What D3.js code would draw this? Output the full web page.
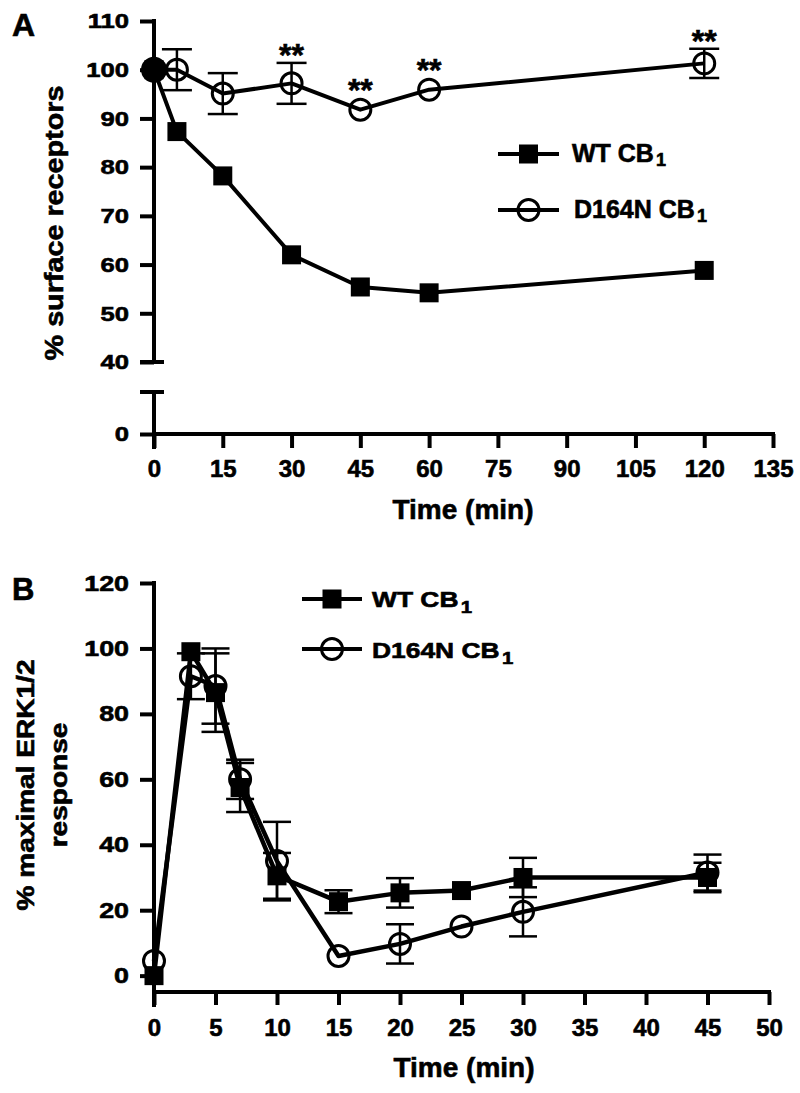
<!DOCTYPE html>
<html>
<head>
<meta charset="utf-8">
<script src="https://cdn.jsdelivr.net/npm/d3@7"></script>
<style>
  html, body { margin: 0; padding: 0; background: #fff; }
  svg { display: block; }
  text { font-family: "Liberation Sans", Arial, Helvetica, sans-serif; font-weight: bold; fill: #000; stroke: #000; stroke-width: 0.6px; }
</style>
</head>
<body>
<svg id="chart" width="800" height="1093"></svg>
<script>
// ---------- DATA ----------
// Panel A: % surface receptors vs time
const timeA    = [0, 5, 15, 30, 45, 60, 120];
const wtA      = [100, 87.3, 78.2, 62.0, 55.4, 54.2, 58.8];
const wtAErr   = [0, 0, 0, 0, 0, 0, 0];
const mutA     = [100, 100, 95.1, 97.2, 91.8, 95.9, 101.3];
const mutAErr  = [0, 4.2, 4.2, 4.2, 0, 0, 3.0];
const sigTimesA = [30, 45, 60, 120];
const xTicksA  = [0, 15, 30, 45, 60, 75, 90, 105, 120, 135];
const yTicksA  = [40, 50, 60, 70, 80, 90, 100, 110];

// Panel B: % maximal ERK1/2 response vs time
const timeB    = [0, 3, 5, 7, 10, 15, 20, 25, 30, 45];
const wtB      = [0, 99, 86.5, 57.5, 30.5, 22.6, 25.3, 26, 30, 30];
const wtBErr   = [0, 0, 12, 7.5, 7, 3.5, 4.5, 0, 6, 4.5];
const mutB     = [4.5, 91.5, 88.5, 60, 35, 6, 9.7, 15, 19.5, 31.5];
const mutBErr  = [0, 7, 11.5, 6, 12, 0, 6, 0, 7.5, 5.5];
const xTicksB  = [0, 5, 10, 15, 20, 25, 30, 35, 40, 45, 50];
const yTicksB  = [0, 20, 40, 60, 80, 100, 120];

const seriesNames = ["WT CB", "D164N CB"];

// ---------- HELPERS ----------
const svg = d3.select("#chart");
const FONT = '"Liberation Sans", Arial, Helvetica, sans-serif';

function label(g, x, y, str, size, opts = {}) {
  const sx = opts.sx || 1, rot = opts.rot || 0;
  return g.append("text")
    .attr("transform", `translate(${x},${y}) rotate(${rot}) scale(${sx},1)`)
    .attr("text-anchor", opts.anchor || "start")
    .style("font-size", size + "px")
    .text(str);
}
function line(g, x1, y1, x2, y2, w) {
  g.append("line").attr("x1", x1).attr("y1", y1).attr("x2", x2).attr("y2", y2)
    .attr("stroke", "#000").attr("stroke-width", w);
}
function styleAxis(sel, fontSize) {
  sel.select(".domain").remove();
  sel.selectAll(".tick line").attr("stroke", "#000").attr("stroke-width", 4);
  sel.selectAll(".tick text")
    .style("font-family", FONT).style("font-weight", "bold")
    .style("font-size", fontSize + "px").attr("fill", "#000");
}
function stretchY(sel, offset, sx) {
  sel.selectAll(".tick text").attr("x", 0)
    .attr("transform", `translate(${-offset},0) scale(${sx},1)`);
}
function rows(t, v, e) { return t.map((d, i) => ({ t: d, v: v[i], e: e[i], i })); }

function drawSeries(g, data, x, y, kind, capHalf, circleFill, lw) {
  const ln = d3.line().x(d => x(d.t)).y(d => y(d.v));
  g.append("path").datum(data).attr("d", ln)
    .attr("fill", "none").attr("stroke", "#000").attr("stroke-width", lw || 4)
    .attr("stroke-linejoin", "round");
  const eb = g.append("g");
  data.filter(d => d.e > 0).forEach(d => {
    line(eb, x(d.t), y(d.v + d.e), x(d.t), y(d.v - d.e), 2.5);
    line(eb, x(d.t) - capHalf, y(d.v + d.e), x(d.t) + capHalf, y(d.v + d.e), 2.5);
    line(eb, x(d.t) - capHalf, y(d.v - d.e), x(d.t) + capHalf, y(d.v - d.e), 2.5);
  });
  if (kind === "square") {
    g.selectAll(null).data(data).join("rect")
      .attr("x", d => x(d.t) - 9.5).attr("y", d => y(d.v) - 9.5)
      .attr("width", 19).attr("height", 19).attr("fill", "#000");
  } else {
    g.selectAll(null).data(data).join("circle")
      .attr("cx", d => x(d.t)).attr("cy", d => y(d.v)).attr("r", 10.5)
      .attr("fill", d => circleFill ? circleFill(d) : "none")
      .attr("stroke", "#000").attr("stroke-width", 3);
  }
}

function legendRow(g, x1, x2, y, kind, textX, baseline, name, size, sx, subSize, subDy) {
  line(g, x1, y, x2, y, 4);
  const cx = (x1 + x2) / 2;
  if (kind === "square") {
    g.append("rect").attr("x", cx - 9.5).attr("y", y - 9.5).attr("width", 19).attr("height", 19).attr("fill", "#000");
  } else {
    g.append("circle").attr("cx", cx).attr("cy", y).attr("r", 10.5)
      .attr("fill", "none").attr("stroke", "#000").attr("stroke-width", 3);
  }
  const t = label(g, textX, baseline, name, size, { sx });
  t.append("tspan").attr("dx", 2).attr("dy", subDy).style("font-size", subSize + "px").text("1");
}

// ---------- PANEL A ----------
const gA = svg.append("g");
const xA = d3.scaleLinear().domain([0, 135]).range([154, 773]);
const yA = d3.scaleLinear().domain([40, 110]).range([362, 21]);
const yALow = d3.scaleLinear().domain([0, 1]).range([434, 392]);

// axes
line(gA, 154, 19, 154, 364, 4);          // upper y segment
line(gA, 154, 390, 154, 449, 4);         // lower y segment
line(gA, 152, 434, 775, 434, 4);         // x axis
line(gA, 140, yA(40), 164, yA(40), 4);   // break cap (upper)
line(gA, 140, 392, 164, 392, 4);         // break cap (lower)

const axYA = gA.append("g").attr("transform", "translate(154,0)")
  .call(d3.axisLeft(yA).tickValues(yTicksA).tickSize(14).tickPadding(0).tickFormat(d3.format("d")));
styleAxis(axYA, 21);
stretchY(axYA, 25, 1.22);

const axYALow = gA.append("g").attr("transform", "translate(154,0)")
  .call(d3.axisLeft(yALow).tickValues([0]).tickSize(14).tickPadding(0).tickFormat(d3.format("d")));
styleAxis(axYALow, 21);
stretchY(axYALow, 25, 1.22);

const axXA = gA.append("g").attr("transform", "translate(0,434)")
  .call(d3.axisBottom(xA).tickValues(xTicksA).tickSize(14).tickPadding(12).tickFormat(d3.format("d")));
styleAxis(axXA, 24);

// series
const mutAData = rows(timeA, mutA, mutAErr);
const wtAData = rows(timeA, wtA, wtAErr);
drawSeries(gA, wtAData, xA, yA, "square", 15);
drawSeries(gA, mutAData, xA, yA, "circle", 15, d => d.i === 0 ? "#000" : "none");
// filled overlap marker at t=0 is slightly larger
gA.append("circle").datum(mutAData[0]).attr("cx", d => xA(d.t)).attr("cy", d => yA(d.v)).attr("r", 13).attr("fill", "#000");

// significance asterisks
sigTimesA.forEach(t => {
  const d = mutAData.find(r => r.t === t);
  const top = Math.min(yA(d.v + d.e), yA(d.v) - 12);
  label(gA, xA(t), top + 3, "**", 32, { anchor: "middle" });
});

// legend
legendRow(gA, 498, 559, 154, "square", 572, 162, seriesNames[0], 25, 1, 18, 4);
legendRow(gA, 498, 559, 210, "circle", 574, 218, seriesNames[1], 25, 1, 18, 4);

// titles
label(gA, 12, 36, "A", 32);
label(gA, 63, 223, "% surface receptors", 25, { rot: -90, sx: 1.15, anchor: "middle" });
label(gA, 463, 519, "Time (min)", 28, { anchor: "middle" });

// ---------- PANEL B ----------
const gB = svg.append("g");
const xB = d3.scaleLinear().domain([0, 50]).range([154, 769]);
const yB = d3.scaleLinear().domain([-5, 120]).range([992, 583]);

line(gB, 154, 581, 154, 1007, 4);   // y axis
line(gB, 152, 992, 771, 992, 4);    // x axis

const axYB = gB.append("g").attr("transform", "translate(154,0)")
  .call(d3.axisLeft(yB).tickValues(yTicksB).tickSize(14).tickPadding(0).tickFormat(d3.format("d")));
styleAxis(axYB, 22);
stretchY(axYB, 25, 1.22);

const axXB = gB.append("g").attr("transform", "translate(0,992)")
  .call(d3.axisBottom(xB).tickValues(xTicksB).tickSize(13).tickPadding(14).tickFormat(d3.format("d")));
styleAxis(axXB, 24);

const wtBData = rows(timeB, wtB, wtBErr);
const mutBData = rows(timeB, mutB, mutBErr);
drawSeries(gB, mutBData, xB, yB, "circle", 14, null, 4.5);
drawSeries(gB, wtBData, xB, yB, "square", 14, null, 4.5);

legendRow(gB, 302, 362, 599, "square", 372, 607, seriesNames[0], 22, 1.2, 17, 6);
legendRow(gB, 302, 362, 649, "circle", 372, 658, seriesNames[1], 22, 1.2, 17, 6);

label(gB, 12, 600, "B", 31);
label(gB, 34, 785, "% maximal ERK1/2", 23, { rot: -90, sx: 1.22, anchor: "middle" });
label(gB, 67, 785, "response", 23, { rot: -90, sx: 1.22, anchor: "middle" });
label(gB, 464, 1077, "Time (min)", 28, { anchor: "middle" });
</script>
</body>
</html>
